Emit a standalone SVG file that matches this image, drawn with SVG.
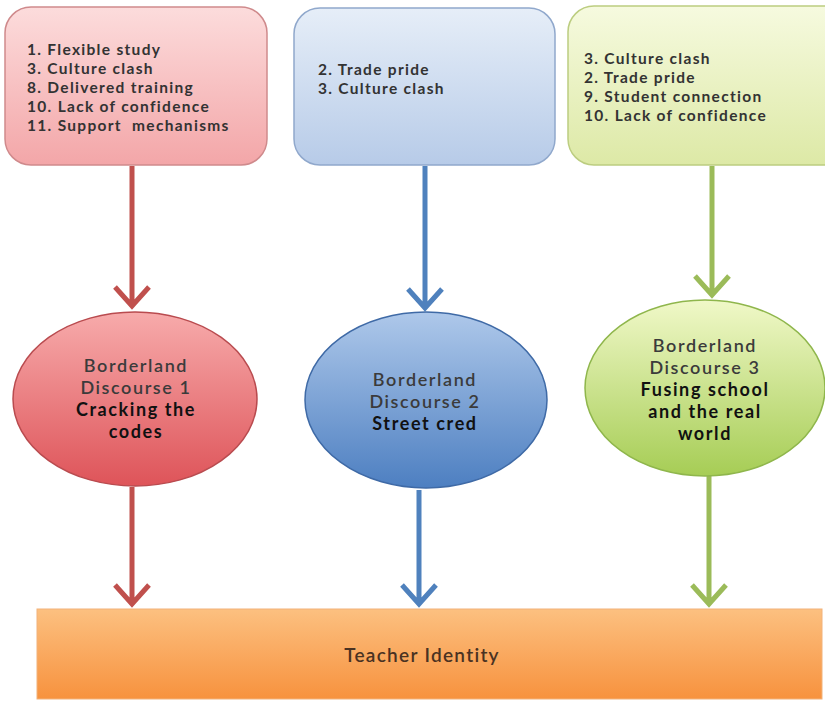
<svg xmlns="http://www.w3.org/2000/svg" width="825" height="701" viewBox="0 0 825 701">
<defs>
<linearGradient id="gRedBox" x1="0" y1="0" x2="0" y2="1"><stop offset="0" stop-color="#fcdcdc"/><stop offset="1" stop-color="#f3a6a8"/></linearGradient>
<linearGradient id="gBlueBox" x1="0" y1="0" x2="0" y2="1"><stop offset="0" stop-color="#e6eef8"/><stop offset="1" stop-color="#b7cbe8"/></linearGradient>
<linearGradient id="gGreenBox" x1="0" y1="0" x2="0" y2="1"><stop offset="0" stop-color="#f6fadf"/><stop offset="1" stop-color="#dde9a6"/></linearGradient>
<linearGradient id="gRedEl" x1="0" y1="0" x2="0" y2="1"><stop offset="0" stop-color="#f7abab"/><stop offset="1" stop-color="#de5459"/></linearGradient>
<linearGradient id="gBlueEl" x1="0" y1="0" x2="0" y2="1"><stop offset="0" stop-color="#aec8ea"/><stop offset="1" stop-color="#4d7fc1"/></linearGradient>
<linearGradient id="gGreenEl" x1="0" y1="0" x2="0" y2="1"><stop offset="0" stop-color="#f0f8c8"/><stop offset="1" stop-color="#a6cd55"/></linearGradient>
<linearGradient id="gOrange" x1="0" y1="0" x2="0" y2="1"><stop offset="0" stop-color="#fcc080"/><stop offset="1" stop-color="#f7923e"/></linearGradient>
</defs>
<style>
.box{stroke-width:1.5}
.lst{font-family:Lato,"Open Sans","Liberation Sans",sans-serif;font-size:15.5px;font-weight:700;fill:#333;letter-spacing:1.3px;white-space:pre}
.el{font-family:Lato,"Open Sans","Liberation Sans",sans-serif;font-size:18px;text-anchor:middle;letter-spacing:1.6px}
.l1{fill:#3b3b3b;font-weight:600}
.l2{fill:#111;font-weight:700}
.arr{fill:none;stroke-width:5;stroke-linecap:butt;stroke-linejoin:miter}
.red{stroke:#c0504d}.blue{stroke:#4f81bd}.green{stroke:#9bbb59}
</style>
<g id="connectors">
<path class="arr red" d="M132 166V306M115 287L132 306L149 287"/>
<path class="arr blue" d="M425 166V308M408 289L425 308L442 289"/>
<path class="arr green" d="M712 166V295M695 276L712 295L729 276"/>
<path class="arr red" d="M132 487V604M115 585L132 604L149 585"/>
<path class="arr blue" d="M419 490V604M402 585L419 604L436 585"/>
<path class="arr green" d="M709 476V604M692 585L709 604L726 585"/>
</g>
<g id="box-red">
<rect class="box" x="5" y="7" width="262" height="158" rx="26" fill="url(#gRedBox)" stroke="#cf8a8c"/>
<text class="lst"><tspan x="27" y="55">1. Flexible study</tspan><tspan x="27" y="74">3. Culture clash</tspan><tspan x="27" y="93">8. Delivered training</tspan><tspan x="27" y="112">10. Lack of confidence</tspan><tspan x="27" y="131">11. Support  mechanisms</tspan></text>
</g>
<g id="box-blue">
<rect class="box" x="294" y="8" width="261" height="157" rx="26" fill="url(#gBlueBox)" stroke="#90a8cc"/>
<text class="lst"><tspan x="318" y="75">2. Trade pride</tspan><tspan x="318" y="94">3. Culture clash</tspan></text>
</g>
<g id="box-green">
<rect class="box" x="568" y="6" width="290" height="159" rx="26" fill="url(#gGreenBox)" stroke="#bccd80"/>
<text class="lst"><tspan x="584" y="64">3. Culture clash</tspan><tspan x="584" y="83">2. Trade pride</tspan><tspan x="584" y="102">9. Student connection</tspan><tspan x="584" y="121">10. Lack of confidence</tspan></text>
</g>
<g id="ellipse-red">
<ellipse cx="135" cy="399" rx="122" ry="87" fill="url(#gRedEl)" stroke="#b94b4f" stroke-width="1.5"/>
<text class="el"><tspan class="l1" x="136" y="372">Borderland</tspan><tspan class="l1" x="136" y="394">Discourse 1</tspan><tspan class="l2" x="136" y="416">Cracking the</tspan><tspan class="l2" x="136" y="438">codes</tspan></text>
</g>
<g id="ellipse-blue">
<ellipse cx="426" cy="400" rx="121" ry="88" fill="url(#gBlueEl)" stroke="#3f6aa6" stroke-width="1.5"/>
<text class="el"><tspan class="l1" x="425" y="386">Borderland</tspan><tspan class="l1" x="425" y="408">Discourse 2</tspan><tspan class="l2" x="425" y="430">Street cred</tspan></text>
</g>
<g id="ellipse-green">
<ellipse cx="705" cy="388" rx="120" ry="88" fill="url(#gGreenEl)" stroke="#8fb64c" stroke-width="1.5"/>
<text class="el"><tspan class="l1" x="705" y="352">Borderland</tspan><tspan class="l1" x="705" y="374">Discourse 3</tspan><tspan class="l2" x="705" y="396">Fusing school</tspan><tspan class="l2" x="705" y="418">and the real</tspan><tspan class="l2" x="705" y="440">world</tspan></text>
</g>
<g id="teacher-identity">
<rect x="37" y="609" width="785" height="90" fill="url(#gOrange)" stroke="#f2b27a" stroke-width="1"/>
<text x="422" y="662" font-family="Lato,'Open Sans','Liberation Sans',sans-serif" font-size="19" font-weight="600" letter-spacing="1.3" fill="#4a3222" text-anchor="middle">Teacher Identity</text>
</g>
</svg>
